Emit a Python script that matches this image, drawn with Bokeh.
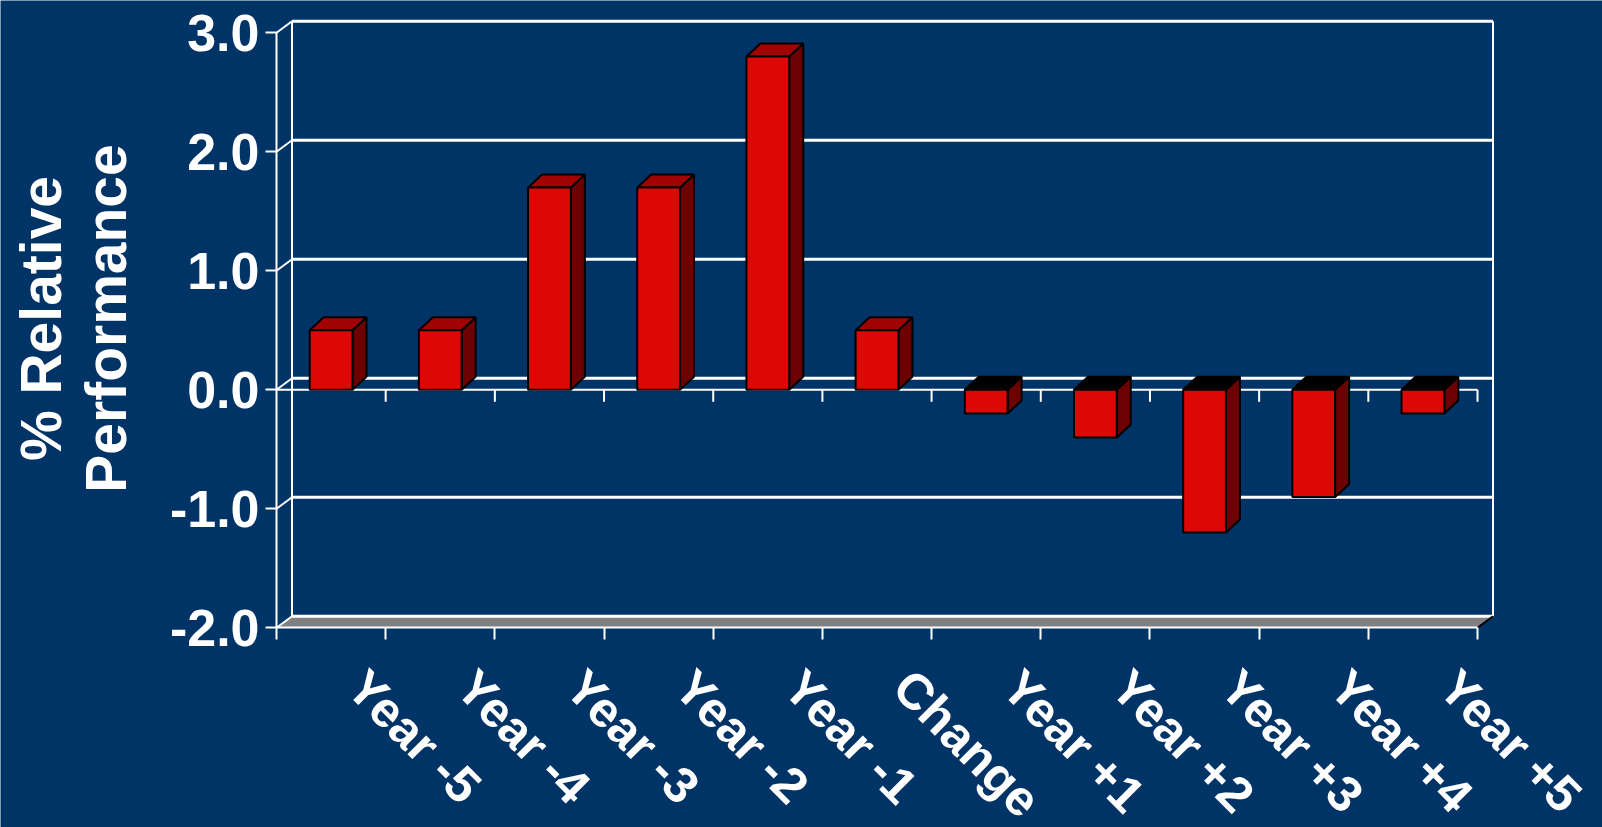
import math

from bokeh.core.properties import value
from bokeh.embed import file_html
from bokeh.models import FixedTicker, NumeralTickFormatter, Range1d
from bokeh.plotting import figure
from bokeh.resources import INLINE

# ---- data -----------------------------------------------------------------
categories = ["Year -5", "Year -4", "Year -3", "Year -2", "Year -1", "Change",
              "Year +1", "Year +2", "Year +3", "Year +4", "Year +5"]
performance = [0.5, 0.5, 1.7, 1.7, 2.8, 0.5, -0.2, -0.4, -1.2, -0.9, -0.2]
y_ticks = [-2.0, -1.0, 0.0, 1.0, 2.0, 3.0]
y_title = ["% Relative", "Performance"]

# ---- styling ----------------------------------------------------------------
NAVY = "#003366"
WHITE = "#ffffff"
FRONT = "#dc0806"
TOP = "#a10303"
SIDE = "#6d0000"
FLOOR = "#808080"
FONT = "Liberation Sans"
W, H = 1602, 827

Y_MIN, Y_MAX = y_ticks[0], y_ticks[-1]
n = len(categories)

# front plane: category 0 starts 276 px from the left edge, the floor sits
# 627 px from the top; 109.18 px per category, 119 px per unit
LEFT_PX, FLOOR_PX = 276.0, 627.3
PX_X = 1201 / n
PX_Y = 119.0
WALL_DX, WALL_DY = 15.5 / PX_X, 11.5 / PX_Y      # depth of the chart box
BAR_DX, BAR_DY = 14.0 / PX_X, 13.0 / PX_Y        # depth of each column
TICK = 12.0 / PX_Y
HALF_W = 0.196
LABEL_SHIFT = 25.0 / PX_X                        # slanted names start right of centre

# the plotting area fills the whole canvas; both axes are pinned inside it
p = figure(width=W, height=H, output_backend="svg", toolbar_location=None,
           x_range=Range1d(-LEFT_PX / PX_X, (W - LEFT_PX) / PX_X),
           y_range=Range1d(Y_MIN - (H - FLOOR_PX) / PX_Y, Y_MIN + FLOOR_PX / PX_Y),
           min_border_left=0, min_border_right=0,
           min_border_top=0, min_border_bottom=0,
           background_fill_color=NAVY, border_fill_color=NAVY,
           outline_line_color=None)
p.grid.visible = False

# ---- back wall, side wall and floor -------------------------------------------
p.patch([0, WALL_DX, n + WALL_DX, n],
        [Y_MIN, Y_MIN + WALL_DY, Y_MIN + WALL_DY, Y_MIN],
        fill_color=FLOOR, line_color=None)
p.segment(x0=[WALL_DX] * len(y_ticks), y0=[t + WALL_DY for t in y_ticks],
          x1=[n + WALL_DX] * len(y_ticks), y1=[t + WALL_DY for t in y_ticks],
          line_color=WHITE, line_width=3)
p.segment(x0=[0] * len(y_ticks), y0=y_ticks,
          x1=[WALL_DX] * len(y_ticks), y1=[t + WALL_DY for t in y_ticks],
          line_color=WHITE, line_width=2)
p.segment(x0=[WALL_DX, n + WALL_DX], y0=[Y_MIN + WALL_DY] * 2,
          x1=[WALL_DX, n + WALL_DX], y1=[Y_MAX + WALL_DY] * 2,
          line_color=WHITE, line_width=2)
p.segment(x0=[n], y0=[Y_MIN], x1=[n + WALL_DX], y1=[Y_MIN + WALL_DY],
          line_color="black", line_width=2)

# front zero line with the category edge ticks
bounds = list(range(n + 1))
p.segment(x0=[0], y0=[0], x1=[n], y1=[0], line_color=WHITE, line_width=2)
p.segment(x0=bounds[1:], y0=[0] * n, x1=bounds[1:], y1=[-TICK] * n,
          line_color=WHITE, line_width=2)

# ---- 3-D columns ----------------------------------------------------------------
front_xs, front_ys, top_xs, top_ys, side_xs, side_ys, top_cols = [], [], [], [], [], [], []
for i, v in enumerate(performance):
    x0, x1 = i + 0.5 - HALF_W, i + 0.5 + HALF_W
    hi = max(v, 0.0)
    lo = min(v, 0.0)
    front_xs.append([x0, x1, x1, x0])
    front_ys.append([lo, lo, hi, hi])
    top_xs.append([x0, x0 + BAR_DX, x1 + BAR_DX, x1])
    top_ys.append([hi, hi + BAR_DY, hi + BAR_DY, hi])
    top_cols.append(TOP if v > 0 else "#000000")
    side_xs.append([x1, x1, x1 + BAR_DX, x1 + BAR_DX])
    side_ys.append([lo, hi, hi + BAR_DY, lo + BAR_DY])

p.patches(side_xs, side_ys, fill_color=SIDE, line_color="black", line_width=2)
p.patches(top_xs, top_ys, fill_color=top_cols, line_color="black", line_width=2)
p.patches(front_xs, front_ys, fill_color=FRONT, line_color="black", line_width=2)

# ---- value axis, pinned to the front-left edge -----------------------------------
yax = p.yaxis[0]
yax.fixed_location = 0
yax.ticker = FixedTicker(ticks=y_ticks)
yax.formatter = NumeralTickFormatter(format="0.0")
yax.bounds = (Y_MIN, Y_MAX)
yax.axis_line_color = WHITE
yax.axis_line_width = 2
yax.major_tick_in = 0
yax.major_tick_out = 11
yax.major_tick_line_color = WHITE
yax.major_tick_line_width = 2
yax.minor_tick_line_color = None
yax.major_label_standoff = 6
yax.major_label_text_font = FONT
yax.major_label_text_font_style = "bold"
yax.major_label_text_font_size = "52px"
yax.major_label_text_color = WHITE

# ---- category axis, pinned to the front floor edge ---------------------------------
label_pos = [i + 0.5 + LABEL_SHIFT for i in range(n)]
xax = p.xaxis[0]
xax.fixed_location = Y_MIN
xax.ticker = FixedTicker(ticks=label_pos, minor_ticks=bounds)
xax.bounds = (0, n)
xax.major_label_overrides = {pos: name for pos, name in zip(label_pos, categories)}
xax.major_label_orientation = -math.pi / 4
xax.major_label_standoff = 39
xax.major_label_text_font = FONT
xax.major_label_text_font_style = "bold"
xax.major_label_text_font_size = "50px"
xax.major_label_text_color = WHITE
xax.axis_line_color = WHITE
xax.axis_line_width = 2
xax.major_tick_in = 0
xax.major_tick_out = 0
xax.major_tick_line_color = None
xax.minor_tick_in = 0
xax.minor_tick_out = 12
xax.minor_tick_line_color = WHITE
xax.minor_tick_line_width = 2

# ---- value-axis title, two lines read bottom to top ---------------------------------
p.text(x=[(40 - LEFT_PX) / PX_X, (105 - LEFT_PX) / PX_X],
       y=[Y_MAX - (318 - 32.3) / PX_Y] * 2, text=y_title,
       angle=math.pi / 2, text_align="center", text_baseline="alphabetic",
       text_font=value(FONT), text_font_style="bold", text_font_size="57px",
       text_color=WHITE)

html = file_html(p, INLINE)
html = html.replace("<body>", '<body style="background-color:%s;">' % NAVY, 1)
open("out.html", "w").write(html)
